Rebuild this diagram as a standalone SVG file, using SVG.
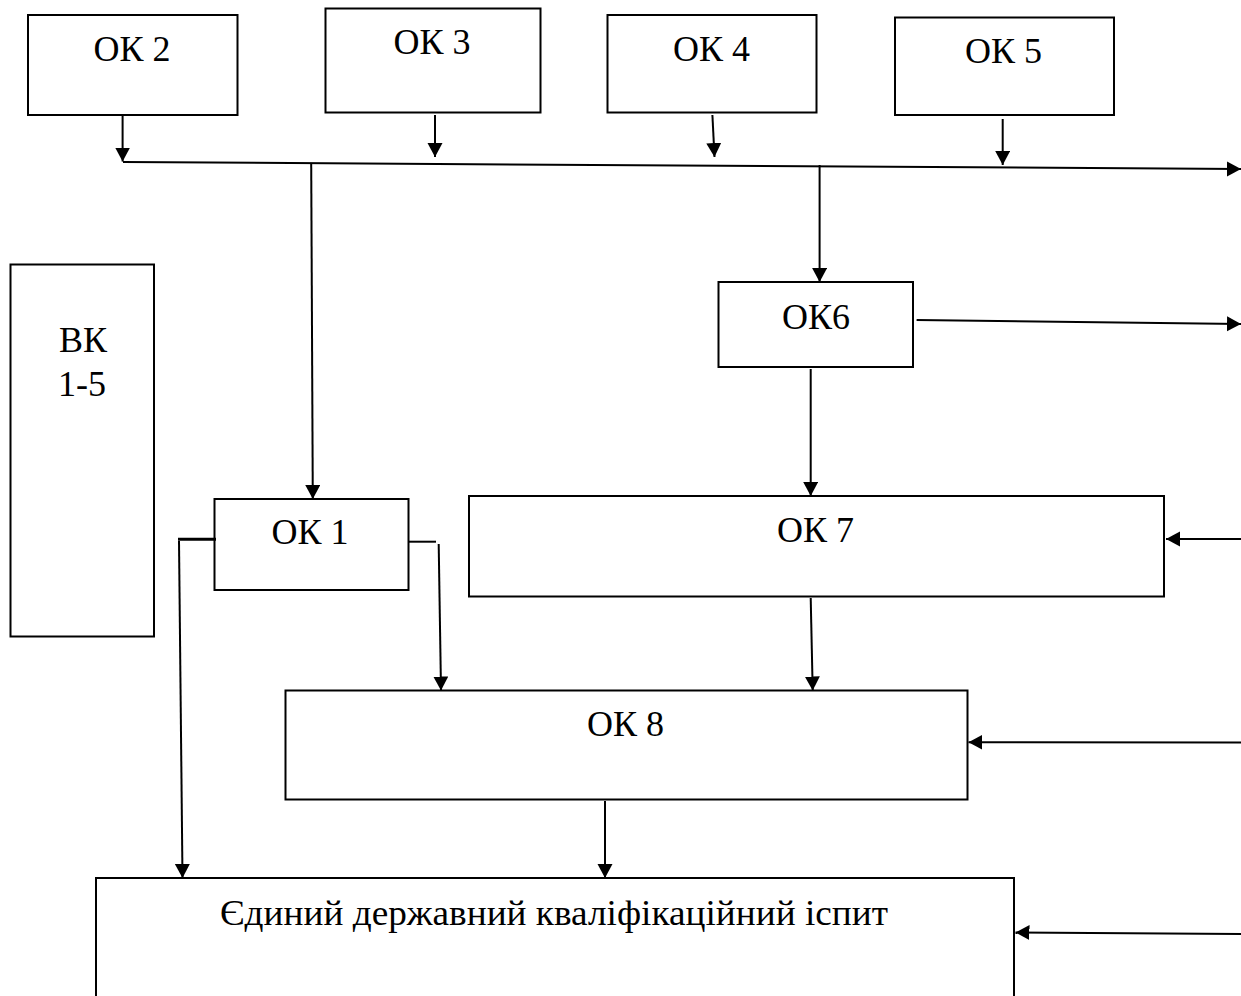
<svg xmlns="http://www.w3.org/2000/svg" width="1241" height="996" viewBox="0 0 1241 996">
<style>
  .box { fill: #ffffff; stroke: #000000; stroke-width: 2; }
  .lbl { font-family: "Liberation Serif", "Times New Roman", serif; font-size: 36px; fill: #000000; text-anchor: middle; }
  .exam { font-size: 35px; text-anchor: start; }
  .con { fill: none; stroke: #000000; stroke-width: 2; }
  .arr { marker-end: url(#ah); }
  .thick { stroke-width: 3; }
</style>
<defs>
  <marker id="ah" markerUnits="userSpaceOnUse" markerWidth="15" markerHeight="16" refX="14" refY="7.5" orient="auto">
    <path d="M0,0 L14,7.5 L0,15 z" fill="#000000"/>
  </marker>
</defs>
<rect width="1241" height="996" fill="#ffffff"/>

<g id="ok2">
  <rect class="box" x="28" y="15" width="209.5" height="100"/>
  <text class="lbl" x="132" y="61">ОК 2</text>
</g>
<g id="ok3">
  <rect class="box" x="325.5" y="8.5" width="215" height="104"/>
  <text class="lbl" x="432" y="53.5">ОК 3</text>
</g>
<g id="ok4">
  <rect class="box" x="607.5" y="15" width="209" height="97.5"/>
  <text class="lbl" x="711.5" y="61">ОК 4</text>
</g>
<g id="ok5">
  <rect class="box" x="895" y="17.5" width="219" height="97.5"/>
  <text class="lbl" x="1003.5" y="62.5">ОК 5</text>
</g>
<g id="vk">
  <rect class="box" x="10.5" y="264.5" width="143.5" height="372"/>
  <text class="lbl" x="83" y="351.5">ВК</text>
  <text class="lbl" x="82" y="395.5">1-5</text>
</g>
<g id="ok6">
  <rect class="box" x="718.5" y="282" width="194.5" height="85"/>
  <text class="lbl" x="816" y="328.5">ОК6</text>
</g>
<g id="ok1">
  <rect class="box" x="214.5" y="499" width="194" height="91"/>
  <text class="lbl" x="310" y="544">ОК 1</text>
</g>
<g id="ok7">
  <rect class="box" x="469" y="496" width="695" height="100.5"/>
  <text class="lbl" x="815.5" y="542">ОК 7</text>
</g>
<g id="ok8">
  <rect class="box" x="285.5" y="690.5" width="682" height="109"/>
  <text class="lbl" x="625.5" y="736">ОК 8</text>
</g>
<g id="exam">
  <rect class="box" x="96" y="878" width="918" height="160"/>
  <text class="lbl exam" x="220" y="925" textLength="668" lengthAdjust="spacingAndGlyphs">Єдиний державний кваліфікаційний іспит</text>
</g>

<g id="connectors">
  <path class="con arr" d="M122.6,115 L122.6,161.5"/>
  <path class="con arr" d="M435,115 L435,157"/>
  <path class="con arr" d="M712.4,115 L714.5,157"/>
  <path class="con arr" d="M1002.7,119 L1002.7,165"/>
  <path class="con arr" d="M123,162 L1241,169"/>
  <path class="con arr" d="M311.2,163 L312.8,499"/>
  <path class="con arr" d="M819.6,165 L819.6,282"/>
  <path class="con arr" d="M916.6,320 L1241,324"/>
  <path class="con arr" d="M810.7,369 L810.7,496"/>
  <path class="con arr" d="M1241,539 L1166,539"/>
  <path class="con thick" d="M216,539.3 L178,539.3"/>
  <path class="con arr" d="M179,541 L182.5,878"/>
  <path class="con" d="M409,541.7 L436,541.7"/>
  <path class="con arr" d="M438.7,544 L441,690.5"/>
  <path class="con arr" d="M810.7,598 L812.7,690.5"/>
  <path class="con arr" d="M1241,742.5 L968.5,742.3"/>
  <path class="con arr" d="M605,801 L605,878"/>
  <path class="con arr" d="M1241,934 L1015.5,932.5"/>
</g>
</svg>
